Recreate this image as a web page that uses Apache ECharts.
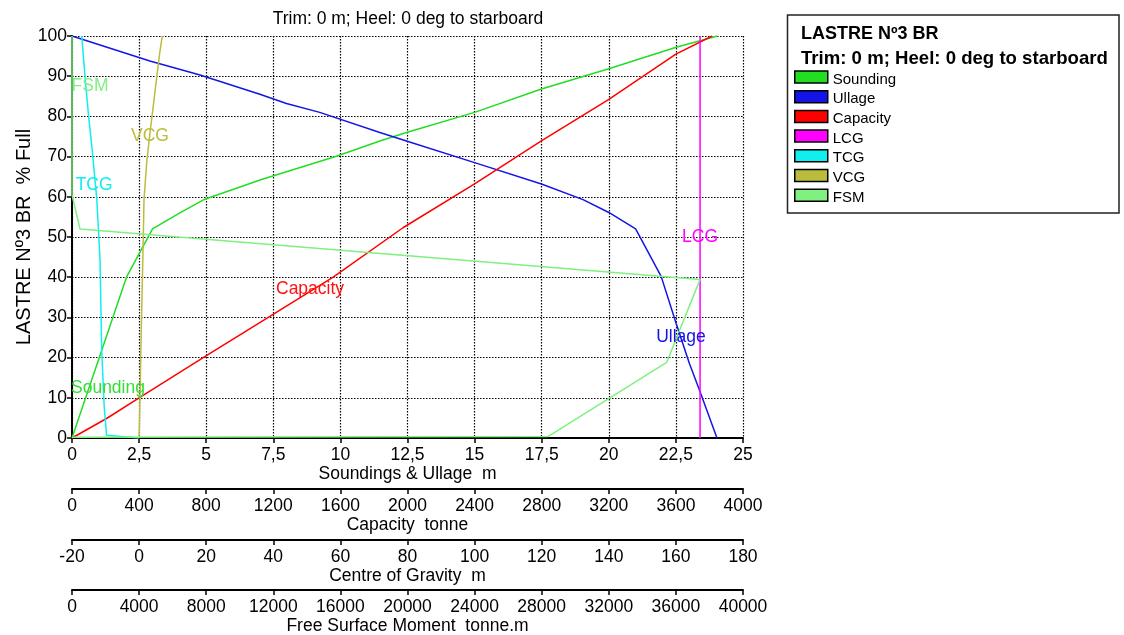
<!DOCTYPE html>
<html>
<head>
<meta charset="utf-8">
<script src="https://cdn.jsdelivr.net/npm/echarts@6/dist/echarts.min.js"></script>
<style>
	html, body { margin: 0; padding: 0; background: #fff; }
	#chart { width: 1124px; height: 635px; }
</style>
</head>
<body>
<div id="chart"></div>
<script>
	//------------------------数据-开始------------------//
	// y = % Full for every curve, x in the unit of its own axis
	var soundingM   = [0, 2.03, 3.0, 4.02, 4.95, 7.06, 9.85, 11.47, 12.46, 15.0, 17.49, 19.97, 22.51, 24.05];
	var soundingPct = [0, 40, 52, 56, 59.4, 64.3, 70.1, 73.9, 76, 81, 86.8, 91.8, 97.2, 100];

	var ullageM   = [0, 2.9, 4.77, 7.0, 7.99, 9.23, 11.47, 12.46, 15.0, 17.49, 19.04, 20.0, 21.0, 21.95, 22.51, 23.0, 23.38, 24.03];
	var ullagePct = [100, 93.8, 90.3, 85.5, 83.2, 81, 76, 73.9, 68.5, 63.2, 59.3, 56.1, 52, 40.2, 28.5, 18.6, 11.9, 0];

	var capacityT   = [0, 206, 400, 782, 1170, 1557, 1973, 2400, 2798, 3198, 3600, 3816];
	var capacityPct = [0, 4.85, 10, 20, 30, 40, 52.3, 63.2, 73.9, 84.2, 95.5, 100];

	var lcgM   = [167.2, 167.2];
	var lcgPct = [0, 100];

	var tcgM   = [0, -9.7, -10.4, -11.15, -11.65, -12.2, -12.6, -13.8, -15.1, -16.1, -17.1];
	var tcgPct = [0, 0.7, 7.7, 21.9, 44.3, 53.1, 59.3, 70.1, 80.5, 89.7, 100];

	var vcgM   = [0, 0.27, 0.6, 1.25, 1.46, 2.26, 3.25, 4.23, 5.24, 6.23, 6.91];
	var vcgPct = [0, 10, 25, 50, 59.3, 68.5, 76, 82.6, 89.7, 96.3, 100];

	var fsmTm  = [0, 0, 477, 37437, 35450, 28394, 0];
	var fsmPct = [100, 60.5, 52, 39.4, 18.8, 0.4, 0.2];

	var seriesNames = ['Sounding', 'Ullage', 'Capacity', 'LCG', 'TCG', 'VCG', 'FSM'];
	//------------------------数据-结束------------------//

	var FONT = "'Liberation Sans', Arial, sans-serif";
	var gridDots = { color: '#000', width: 1.2, type: [1.5, 1.5] };

	function pairs(xs, ys)
	{
		return xs.map(function(x, i){ return [x, ys[i]]; });
	}

	function curveLabel(text, color, x, y)
	{
		return {
			symbol: 'circle',
			symbolSize: 1,
			silent: true,
			itemStyle: { color: 'rgba(0,0,0,0)' },
			label: {
				show: true,
				position: 'inside',
				formatter: text,
				color: color,
				fontFamily: FONT,
				fontSize: 17.5
			},
			data: [{ coord: [x, y] }]
		};
	}

	function line(name, color, axisIdx, data, mark)
	{
		return {
			name: name,
			type: 'line',
			xAxisIndex: axisIdx,
			data: data,
			symbol: 'none',
			color: color,
			lineStyle: { color: color, width: 1.5 },
			markPoint: mark
		};
	}

	function plainNum(v)
	{
		return String(v).replace('.', ',');
	}

	function bottomAxis(min, max, interval, offset, name)
	{
		return {
			type: 'value',
			position: 'bottom',
			min: min,
			max: max,
			interval: interval,
			offset: offset,
			name: name,
			nameLocation: 'middle',
			nameGap: 27.5,
			nameMoveOverlap: false,
			nameTextStyle: { color: '#000', fontFamily: FONT, fontSize: 17.5 },
			axisLine: { onZero: false, lineStyle: { color: '#000', width: 2 } },
			axisTick: { show: true, length: 5, lineStyle: { color: '#000', width: 1.5 } },
			axisLabel: { color: '#000', fontFamily: FONT, fontSize: 17.5, margin: 8, formatter: plainNum },
			splitLine: { show: false }
		};
	}

	var soundAxis = bottomAxis(0, 25, 2.5, 0, 'Soundings & Ullage  m');
	soundAxis.splitLine = { show: true, lineStyle: gridDots };

	var option = {
		animation: false,
		backgroundColor: '#fff',
		grid: { left: 72, right: 381, top: 36, bottom: 197, containLabel: false, outerBoundsMode: 'none' },
		xAxis: [
			soundAxis,
			bottomAxis(0, 4000, 400, 51, 'Capacity  tonne'),
			bottomAxis(-20, 180, 20, 102, 'Centre of Gravity  m'),
			bottomAxis(0, 40000, 4000, 152, 'Free Surface Moment  tonne.m')
		],
		yAxis: {
			type: 'value',
			min: 0,
			max: 100,
			interval: 10,
			name: 'LASTRE Nº3 BR  % Full',
			nameLocation: 'middle',
			nameGap: 38,
			nameMoveOverlap: false,
			nameTextStyle: { color: '#000', fontFamily: FONT, fontSize: 20 },
			axisLine: { show: true, lineStyle: { color: '#000', width: 2 } },
			axisTick: { show: true, length: 5, lineStyle: { color: '#000', width: 1.5 } },
			axisLabel: { color: '#000', fontFamily: FONT, fontSize: 17.5, margin: 5 },
			splitLine: { show: true, lineStyle: gridDots }
		},
		legend: {
			orient: 'vertical',
			left: 794,
			top: 67,
			padding: 0,
			data: seriesNames,
			icon: 'rect',
			itemWidth: 33,
			itemHeight: 12,
			itemGap: -0.3,
			selectedMode: false,
			itemStyle: { borderColor: '#000', borderWidth: 1.5 },
			formatter: '{t|{name}}',
			textStyle: {
				color: '#000',
				rich: { t: { color: '#000', fontFamily: FONT, fontSize: 15, lineHeight: 15, padding: [5, 0, 0, 0] } }
			}
		},
		graphic: [
			{
				type: 'text',
				style: { x: 408, y: 19, text: 'Trim: 0 m; Heel: 0 deg to starboard', textAlign: 'center', textVerticalAlign: 'middle', fill: '#000', font: '17.5px ' + FONT }
			},
			{
				type: 'rect',
				shape: { x: 787.5, y: 15, width: 331.5, height: 198 },
				style: { fill: 'none', stroke: '#222', lineWidth: 1.5 }
			},
			{
				type: 'text',
				style: { x: 801, y: 34, text: 'LASTRE Nº3 BR', textVerticalAlign: 'middle', fill: '#000', font: 'bold 18px ' + FONT }
			},
			{
				type: 'text',
				style: { x: 801, y: 59, text: 'Trim: 0 m; Heel: 0 deg to starboard', textVerticalAlign: 'middle', fill: '#000', font: 'bold 18.6px ' + FONT }
			}
		],
		series: [
			line('Sounding', '#22dd22', 0, pairs(soundingM, soundingPct), curveLabel('Sounding', '#33dd33', 1.34, 12.4)),
			line('Ullage', '#1414e6', 0, pairs(ullageM, ullagePct), curveLabel('Ullage', '#1414e6', 22.69, 25.1)),
			line('Capacity', '#ff0000', 1, pairs(capacityT, capacityPct), curveLabel('Capacity', '#ff1111', 1419, 37)),
			line('LCG', '#ff00ff', 2, pairs(lcgM, lcgPct), curveLabel('LCG', '#ff00ff', 167.2, 50)),
			line('TCG', '#11eeee', 2, pairs(tcgM, tcgPct), curveLabel('TCG', '#11eeee', -13.4, 62.9)),
			line('VCG', '#bcbc3c', 2, pairs(vcgM, vcgPct), curveLabel('VCG', '#bcbc3c', 3.25, 75.1)),
			line('FSM', '#80f080', 3, pairs(fsmTm, fsmPct), curveLabel('FSM', '#80f080', 1073, 87.6))
		]
	};

	var myChart = echarts.init(document.getElementById('chart'), null, { renderer: 'canvas' });
	myChart.setOption(option);
</script>
</body>
</html>
